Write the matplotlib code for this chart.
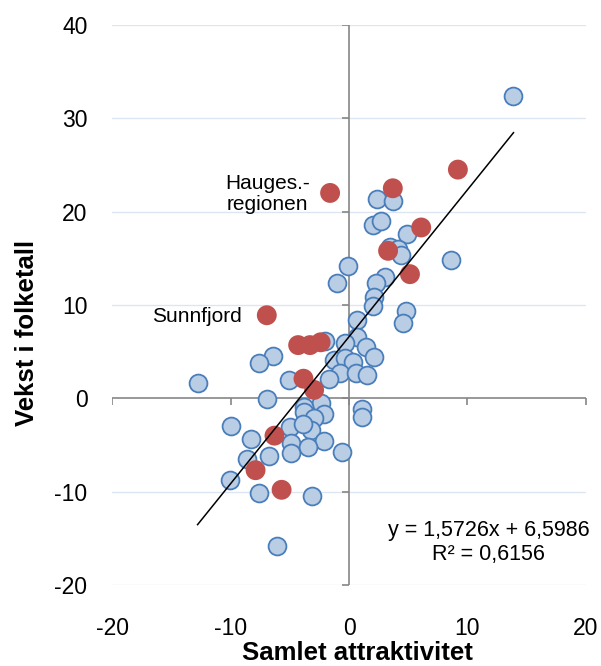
import numpy as np
import matplotlib.pyplot as plt

plt.rcParams['font.family'] = ['Liberation Sans', 'DejaVu Sans']
plt.rcParams['axes.unicode_minus'] = False

# Samlet attraktivitet (x) vs. vekst i folketall (y)
blue_x = [13.9, 8.65, 2.4, 3.7, 2.0, 2.7, 4.9, 3.5, 4.1, 4.4, -0.1, 3.0, 2.3, -1.0,
          2.1, 2.0, 4.8, 4.6, 0.7, 0.7, -0.3, 1.4, -2.0, 2.1, -1.3, -0.3, 0.3, -0.8,
          0.6, 1.5, -1.7, -5.1, -6.4, -7.6, -12.8, -6.9, -10.0, 1.1, 1.1, -2.4, -3.8,
          -3.8, -2.1, -3.0, -5.0, -3.2, -3.9, -8.3, -4.9, -2.1, -3.5, -6.8, -4.9,
          -0.6, -8.6, -7.6, -3.1, -10.1, -6.05]
blue_y = [32.4, 14.8, 21.4, 21.1, 18.6, 19.0, 17.6, 16.2, 16.0, 15.4, 14.2, 13.0, 12.3, 12.4,
          10.9, 9.9, 9.4, 8.1, 8.4, 6.6, 5.9, 5.5, 6.1, 4.4, 4.1, 4.3, 3.9, 2.7,
          2.7, 2.5, 2.1, 2.0, 4.5, 3.75, 1.6, -0.1, -3.0, -1.1, -2.0, -0.5, -0.9,
          -1.5, -1.7, -2.1, -3.1, -3.4, -2.7, -4.4, -4.8, -4.6, -5.2, -6.2, -5.9,
          -5.8, -6.5, -10.1, -10.5, -8.8, -15.8]

red_x = [9.2, 3.7, -1.6, 6.1, 3.3, 5.15, -6.95, -4.3, -3.3, -2.4, -3.85, -2.95, -6.3, -7.9, -5.7]
red_y = [24.5, 22.5, 22.0, 18.3, 15.8, 13.3, 8.9, 5.7, 5.7, 6.0, 2.1, 0.9, -4.0, -7.7, -9.8]

# Excel trendline shown on the chart
slope, intercept, r2 = 1.5726, 6.5986, 0.6156

xticks = [-20, -10, 0, 10, 20]
yticks = [-20, -10, 0, 10, 20, 30, 40]

fig = plt.figure(figsize=(6.01, 6.66), dpi=100)
ax = fig.add_axes([0.187, 0.1216, 0.7875, 0.841])
ax.set_xlim(-20, 20)
ax.set_ylim(-20, 40)

for s in ax.spines.values():
    s.set_visible(False)

for yv in yticks:
    if yv != 0:
        ax.axhline(yv, color='#DCE6F2', lw=1.0, zorder=0)
ax.axhline(0, color='#868686', lw=1.2, zorder=1)
ax.axvline(0, color='#868686', lw=1.2, zorder=1)
ax.plot(xticks, [0] * len(xticks), ls='none', marker=3, ms=5, mew=1.2, color='#868686', zorder=1)
ax.plot([0] * len(yticks), yticks, ls='none', marker=0, ms=5, mew=1.2, color='#868686', zorder=1)

ax.scatter(blue_x, blue_y, s=165, facecolor='#B9CDE5', edgecolor='#4A7EBB', lw=1.3, zorder=3)
ax.scatter(red_x, red_y, s=205, facecolor='#C0504D', edgecolor='none', zorder=4)

all_x = np.array(blue_x + red_x)
lx = np.array([all_x.min(), all_x.max()])
ax.plot(lx, slope * lx + intercept, color='black', lw=1.1, zorder=5)

ax.set_xticks(xticks)
ax.set_yticks(yticks)
ax.tick_params(length=0, labelsize=16.5)
ax.tick_params(axis='x', pad=23)
ax.tick_params(axis='y', pad=18)

fig.text(0.594, 0.02, 'Samlet attraktivitet', fontsize=18.5, fontweight='bold',
         ha='center', va='center')
fig.text(0.045, 0.5, 'Vekst i folketall', fontsize=18.5, fontweight='bold',
         ha='center', va='center', rotation=90)

eq = 'y = ' + f'{slope:.4f}'.replace('.', ',') + 'x + ' + f'{intercept:.4f}'.replace('.', ',')
r2txt = 'R² = ' + f'{r2:.4f}'.replace('.', ',')
ax.text(0.795, 0.076, eq + '\n' + r2txt, transform=ax.transAxes, ha='center', va='center',
        fontsize=15.5, linespacing=1.15)

ax.annotate('Hauges.-\nregionen', xy=(-1.6, 22.0), xytext=(-45, -1), textcoords='offset points',
            ha='center', va='center', fontsize=15, linespacing=1.15)
ax.annotate('Sunnfjord', xy=(-6.95, 8.9), xytext=(-18, -1), textcoords='offset points',
            ha='right', va='center', fontsize=15)

fig.savefig('out.png', dpi=100)
